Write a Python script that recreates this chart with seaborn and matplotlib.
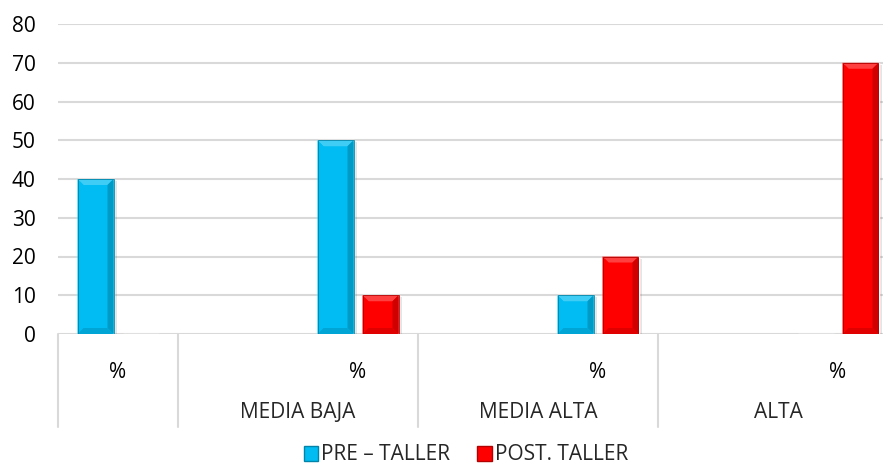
import numpy as np
import pandas as pd
import matplotlib
matplotlib.use("Agg")
import matplotlib.pyplot as plt
from matplotlib.patches import Polygon, Patch
from matplotlib.lines import Line2D
import seaborn as sns

# Data
grupos = ["", "MEDIA BAJA", "MEDIA ALTA", "ALTA"]
subetiquetas = ["%", "%", "%", "%"]
series = ["PRE – TALLER", "POST. TALLER"]
pre_taller = [40, 50, 10, 0]
post_taller = [0, 10, 20, 70]
yticks = [0, 10, 20, 30, 40, 50, 60, 70, 80]

colores = {"PRE – TALLER": "#00BCF2", "POST. TALLER": "#FF0000"}

df = pd.DataFrame({
    "pos": list(range(len(grupos))) * 2,
    "serie": [series[0]] * len(grupos) + [series[1]] * len(grupos),
    "valor": pre_taller + post_taller,
})

sns.set_style("white")
plt.rcParams["font.family"] = ["Open Sans", "DejaVu Sans"]
FS = 15

W, H = 883, 472
fig = plt.figure(figsize=(W / 100, H / 100), dpi=100)
ax = fig.add_axes([58 / W, 1 - 334 / H, (W - 58) / W, 310 / H])

sns.barplot(data=df, x="pos", y="valor", hue="serie", hue_order=series,
            palette=colores, width=0.375, gap=0.2, ax=ax, legend=False,
            saturation=1, err_kws={"linewidth": 0}, zorder=3)

ax.set_xlim(-0.25, 3.1875)
ax.set_ylim(0, 80)
ax.set_yticks(yticks)
ax.set_xticks(range(len(grupos)))
ax.set_xticklabels(subetiquetas)
ax.set_xlabel("")
ax.set_ylabel("")
for s in ax.spines.values():
    s.set_visible(False)
ax.grid(axis="y", color="#D9D9D9", linewidth=1.5, zorder=0)
ax.set_axisbelow(True)
ax.tick_params(axis="both", length=0, labelsize=FS, colors="#000000")
ax.tick_params(axis="x", pad=20)
ax.tick_params(axis="y", pad=16)


def shade(color, f):
    c = np.array(matplotlib.colors.to_rgb(color))
    if f >= 0:
        return tuple(c + (1 - c) * f)
    return tuple(c * (1 + f))


# Bevelled look for each bar, built from the bar geometry
fig.canvas.draw()
inv = ax.transData.inverted()
to_disp = ax.transData
for p in list(ax.patches):
    x0, y0 = p.get_x(), p.get_y()
    w, h = p.get_width(), p.get_height()
    if h <= 0:
        continue
    base = p.get_facecolor()[:3]
    (dx0, dy0) = to_disp.transform((x0, y0))
    (dx1, dy1) = to_disp.transform((x0 + w, y0 + h))
    b = min(6, (dy1 - dy0) / 2)

    def D(px, py):
        return inv.transform((px, py))

    # soft shadow
    sh = Polygon([D(dx0 + 2, dy0 - 3), D(dx1 + 3, dy0 - 3), D(dx1 + 3, dy1 - 2),
                  D(dx1, dy1 - 2), D(dx1, dy0), D(dx0 + 2, dy0)],
                 closed=True, facecolor="#000000", alpha=0.10, lw=0, zorder=2.5)
    ax.add_patch(sh)
    pieces = [
        ([(dx0, dy1), (dx1, dy1), (dx1 - b, dy1 - b), (dx0 + b, dy1 - b)], shade(base, 0.25)),
        ([(dx0, dy0), (dx0, dy1), (dx0 + b, dy1 - b), (dx0 + b, dy0 + b)], shade(base, 0.0)),
        ([(dx1, dy0), (dx1, dy1), (dx1 - b, dy1 - b), (dx1 - b, dy0 + b)], shade(base, -0.18)),
        ([(dx0, dy0), (dx1, dy0), (dx1 - b, dy0 + b), (dx0 + b, dy0 + b)], shade(base, -0.12)),
    ]
    for pts, col in pieces:
        ax.add_patch(Polygon([D(*q) for q in pts], closed=True, facecolor=col,
                             lw=0, zorder=3.5))
    # thin darker outline
    ax.add_patch(Polygon([D(dx0, dy0), D(dx1, dy0), D(dx1, dy1), D(dx0, dy1)],
                         closed=True, facecolor="none", edgecolor=shade(base, -0.3),
                         lw=0.6, zorder=3.6))

# Category separators and group labels below the axis
sep_color = "#D9D9D9"
bottom = -(427 - 334) / 310
tr = matplotlib.transforms.blended_transform_factory(ax.transData, ax.transAxes)
separadores = [-0.25] + [i + 0.25 for i in range(len(grupos) - 1)]
for xs in separadores:
    ax.add_line(Line2D([xs, xs], [0, bottom], transform=tr, color=sep_color,
                       lw=1.5, clip_on=False))
for i, g in enumerate(grupos):
    ax.text(i - 0.25, -(413 - 334) / 310, g, transform=tr, ha="center",
            va="center", fontsize=FS)

# Legend
handles = [Patch(facecolor=colores[s], edgecolor=shade(colores[s], -0.3), lw=1.0, label=s)
           for s in series]
fig.legend(handles=handles, loc="center", bbox_to_anchor=(466 / W, 1 - 455 / H),
           ncol=2, frameon=False, fontsize=FS, handlelength=0.7, handleheight=0.7,
           handletextpad=0.15, columnspacing=1.3)

fig.savefig("out.png", dpi=100, facecolor="white")
